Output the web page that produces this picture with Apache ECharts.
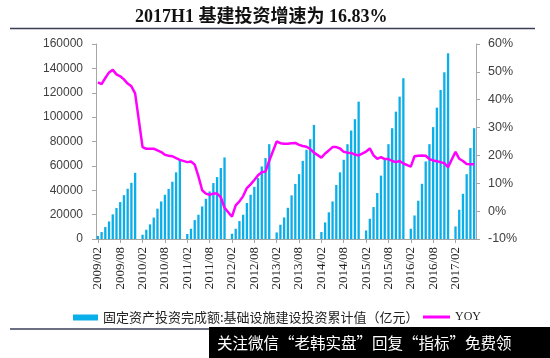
<!DOCTYPE html>
<html>
<head>
<meta charset="utf-8">
<script src="https://cdn.jsdelivr.net/npm/echarts@6/dist/echarts.min.js"></script>
<style>
html,body{margin:0;padding:0;background:#fff;}
#chart{width:550px;height:358px;}
</style>
</head>
<body>
<div id="chart"></div>
<script>
const titleText = '2017H1 基建投资增速为 16.83%';
const barName = '固定资产投资完成额:基础设施建设投资累计值（亿元）';
const lineName = 'YOY';
const watermarkText = '关注微信“老韩实盘”回复“指标”免费领';

const categories = [
  '2009/02','2009/03','2009/04','2009/05','2009/06','2009/07','2009/08','2009/09','2009/10','2009/11','2009/12',
  '2010/01','2010/02','2010/03','2010/04','2010/05','2010/06','2010/07','2010/08','2010/09','2010/10','2010/11','2010/12',
  '2011/01','2011/02','2011/03','2011/04','2011/05','2011/06','2011/07','2011/08','2011/09','2011/10','2011/11','2011/12',
  '2012/01','2012/02','2012/03','2012/04','2012/05','2012/06','2012/07','2012/08','2012/09','2012/10','2012/11','2012/12',
  '2013/01','2013/02','2013/03','2013/04','2013/05','2013/06','2013/07','2013/08','2013/09','2013/10','2013/11','2013/12',
  '2014/01','2014/02','2014/03','2014/04','2014/05','2014/06','2014/07','2014/08','2014/09','2014/10','2014/11','2014/12',
  '2015/01','2015/02','2015/03','2015/04','2015/05','2015/06','2015/07','2015/08','2015/09','2015/10','2015/11','2015/12',
  '2016/01','2016/02','2016/03','2016/04','2016/05','2016/06','2016/07','2016/08','2016/09','2016/10','2016/11','2016/12',
  '2017/01','2017/02','2017/03','2017/04','2017/05','2017/06','2017/07'
];

// cumulative infrastructure investment (亿元), January not reported
const invest2009 = [2500, 5700, 9800, 14400, 20200, 25400, 30300, 36000, 41200, 46100, 54300];
const invest2010 = [null, 3500, 7600, 12000, 17600, 24900, 30800, 36300, 41100, 47000, 54700, 65500];
const invest2011 = [null, 4100, 8400, 15500, 19900, 26700, 33000, 39000, 45900, 50800, 58200, 66900];
const invest2012 = [null, 4300, 8400, 14700, 19900, 29500, 36300, 42800, 50000, 59500, 66400, 77800];
const invest2013 = [null, 5400, 11700, 17700, 25600, 35800, 45200, 53200, 64100, 73200, 81900, 93600];
const invest2014 = [null, 5700, 13600, 21900, 30800, 44300, 54700, 65000, 77800, 89000, 98300, 112700];
const invest2015 = [null, 7000, 16600, 26200, 37700, 52000, 65800, 77800, 90900, 104500, 116800, 131900];
const invest2016 = [null, 8400, 19300, 31400, 45300, 63600, 77800, 91800, 107800, 122300, 136800, 152400];
const invest2017 = [null, 10300, 24000, 37100, 53200, 74600, 90900];

// YOY growth (%)
const yoy2009 = [46.2, 45.6, 47.8, 49.8, 50.7, 49.1, 48.4, 47.3, 45.8, 44.8, 42.3];
const yoy2010 = [null, 23.0, 22.4, 22.4, 22.4, 21.8, 21.2, 20.2, 19.9, 19.7, 19.0, 18.4];
const yoy2011 = [null, 17.6, 17.8, 16.7, 12.5, 7.5, 6.3, 5.9, 6.3, 6.3, 5.0, 1.2];
const yoy2012 = [null, -2.0, 2.1, 3.5, 5.4, 8.3, 9.6, 11.2, 12.9, 14.0, 14.2, 18.1];
const yoy2013 = [null, 25.0, 24.4, 24.2, 24.2, 24.4, 24.5, 23.8, 23.4, 23.1, 22.3, 21.0];
const yoy2014 = [null, 19.2, 20.7, 21.8, 23.0, 23.0, 22.5, 21.3, 21.0, 20.9, 20.3, 20.0];
const yoy2015 = [null, 21.4, 22.5, 20.0, 18.8, 19.4, 18.7, 18.7, 18.0, 17.6, 18.0, 17.1];
const yoy2016 = [null, 16.0, 19.7, 19.9, 20.0, 19.9, 18.7, 18.2, 17.9, 17.6, 17.2, 15.8];
const yoy2017 = [null, 21.3, 18.8, 18.0, 16.9, 16.8, 16.83];

const investData = [].concat(invest2009, invest2010, invest2011, invest2012, invest2013, invest2014, invest2015, invest2016, invest2017);
const yoyData = [].concat(yoy2009, yoy2010, yoy2011, yoy2012, yoy2013, yoy2014, yoy2015, yoy2016, yoy2017);

const chart = echarts.init(document.getElementById('chart'), null, {renderer: 'canvas'});
const axisGray = '#a6a6a6';
const labelColor = '#404040';

chart.setOption({
  animation: false,
  backgroundColor: '#fff',
  title: {
    text: titleText,
    left: 130,
    top: 3,
    textStyle: {fontSize: 18, fontWeight: 'bold', color: '#111', fontFamily: "'Liberation Serif','Noto Sans CJK SC',serif"}
  },
  grid: {left: 96, right: 74, top: 44, height: 195},
  legend: [
    {
      data: [barName],
      left: 68, top: 306,
      icon: 'rect', itemWidth: 25, itemHeight: 6,
      textStyle: {fontSize: 13, color: '#222', fontFamily: "'Noto Sans CJK SC',sans-serif"}
    },
    {
      data: [lineName],
      left: 418, top: 306,
      icon: 'rect', itemWidth: 27, itemHeight: 3,
      textStyle: {fontSize: 12, color: '#222', fontFamily: "'Liberation Sans Narrow','Liberation Serif',serif"}
    }
  ],
  xAxis: {
    type: 'category',
    data: categories,
    boundaryGap: true,
    axisLine: {show: true, lineStyle: {color: axisGray, width: 1}},
    axisTick: {show: true, interval: 5, alignWithLabel: true, length: 4, lineStyle: {color: axisGray}},
    axisLabel: {interval: 5, rotate: 90, margin: 8, fontSize: 13, color: '#222', fontFamily: "'Liberation Serif',serif"}
  },
  yAxis: [
    {
      type: 'value', min: 0, max: 160000, interval: 20000, position: 'left',
      axisLine: {show: true, lineStyle: {color: axisGray}},
      axisTick: {show: true, length: 4, lineStyle: {color: axisGray}},
      splitLine: {show: false},
      axisLabel: {margin: 13, fontSize: 12, color: labelColor, formatter: function (v) { return String(v); }, fontFamily: "'Liberation Sans',sans-serif"}
    },
    {
      type: 'value', min: -10, max: 60, interval: 10, position: 'right',
      axisLine: {show: true, lineStyle: {color: axisGray}},
      axisTick: {show: true, length: 4, lineStyle: {color: axisGray}},
      splitLine: {show: false},
      axisLabel: {margin: 12, fontSize: 12.5, color: labelColor, formatter: '{value}%', fontFamily: "'Liberation Sans',sans-serif"}
    }
  ],
  series: [
    {
      name: barName, type: 'bar', yAxisIndex: 0, data: investData,
      barWidth: '62%',
      itemStyle: {color: '#0aaee8'}
    },
    {
      name: lineName, type: 'line', yAxisIndex: 1, data: yoyData,
      connectNulls: true, symbol: 'none', z: 5,
      lineStyle: {color: '#ff00ff', width: 2.5},
      itemStyle: {color: '#ff00ff'}
    }
  ],
  graphic: [
    {type: 'line', shape: {x1: 10, y1: 28.5, x2: 535, y2: 28.5}, style: {stroke: '#3a3f57', lineWidth: 1.6}},
    {type: 'line', shape: {x1: 10, y1: 329, x2: 535, y2: 329}, style: {stroke: '#3a3f57', lineWidth: 1.6}},
    {type: 'rect', shape: {x: 209, y: 327, width: 341, height: 31}, style: {fill: '#000'}, z: 100},
    {type: 'text', x: 217, y: 343, z: 101,
      style: {text: watermarkText, fill: '#fff', fontSize: 15.5, fontFamily: "'Noto Sans CJK SC',sans-serif", textVerticalAlign: 'middle'}}
  ]
});
</script>
</body>
</html>
